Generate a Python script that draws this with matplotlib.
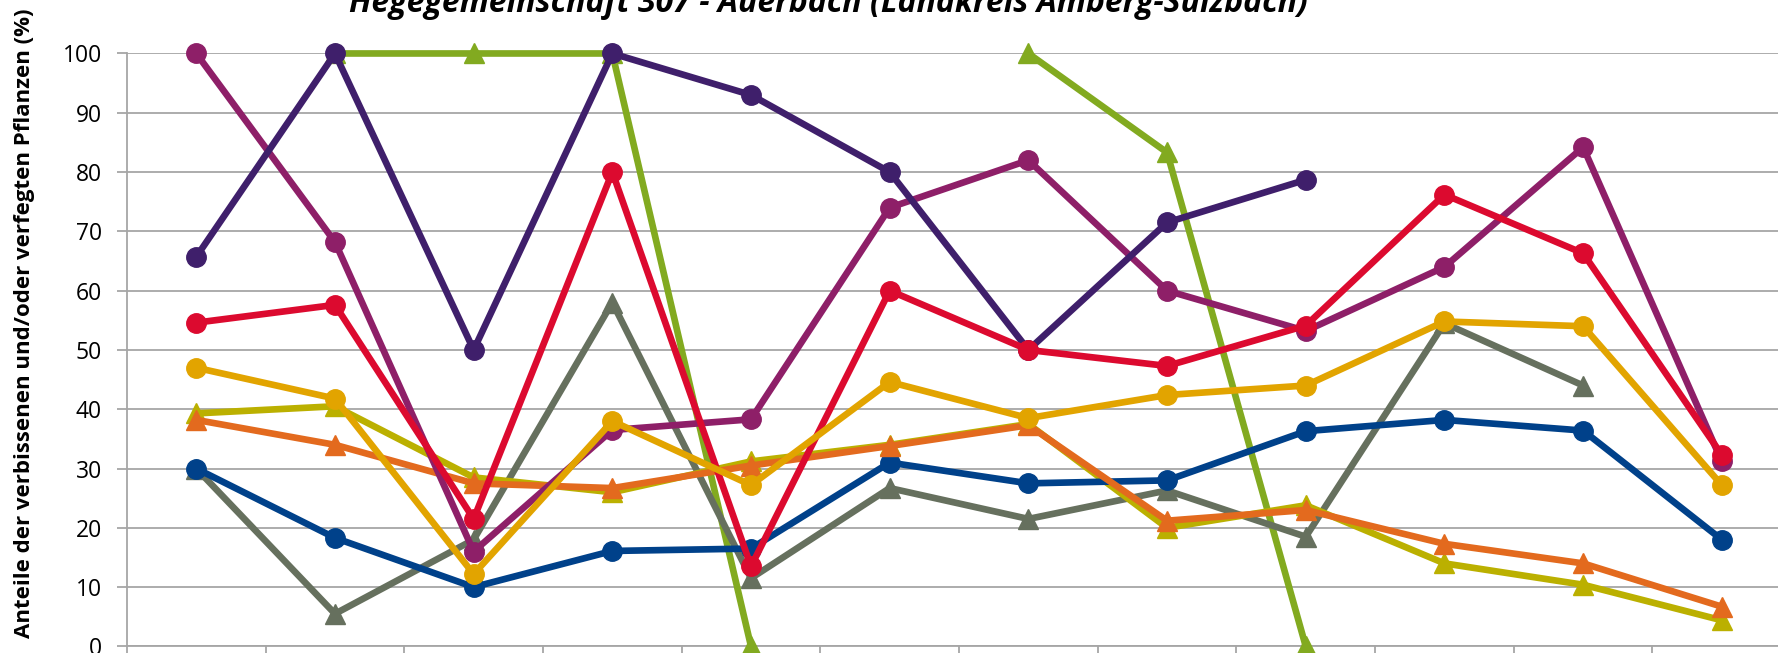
import numpy as np
import matplotlib
matplotlib.use("Agg")
from matplotlib import pyplot as plt

nan = np.nan
x_values = list(range(12))

# values (percent), nan = no value
gruen = [nan, 100, 100, 100, 0, nan, 100, 83.3, 0, nan, nan, nan]
grau = [30, 5.5, 18, 58, 11.5, 26.7, 21.5, 26.3, 18.5, 54.5, 44, nan]
oliv = [39.3, 40.5, 28.5, 26, 31.2, 34, 37.5, 20, 23.8, 14, 10.4, 4.4]
blau = [30, 18.3, 10, 16.1, 16.5, 31, 27.5, 28, 36.3, 38.2, 36.4, 18]
orange = [38.2, 34, 27.5, 26.7, 30.5, 33.8, 37.3, 21.2, 23, 17.3, 14, 6.7]
pflaume = [100, 68.2, 16, 36.5, 38.3, 74, 82, 60, 53.2, 64, 84.2, 31.2]
lila = [65.7, 100, 50, 100, 93, 80, 50, 71.5, 78.7, nan, nan, nan]
rot = [54.6, 57.6, 21.5, 80, 13.5, 60, 50, 47.3, 54.1, 76.2, 66.3, 32.3]
gold = [47, 41.8, 12.2, 38, 27.2, 44.6, 38.5, 42.4, 44, 54.8, 54, 27.2]

titel = "Hegegemeinschaft 307 - Auerbach (Landkreis Amberg-Sulzbach)"
ylabel = "Anteile der verbissenen und/oder verfegten Pflanzen (%)"

plt.rcParams['font.family'] = ['Open Sans', 'DejaVu Sans']

fig = plt.figure(figsize=(17.78, 6.53), dpi=100)
ax = fig.add_axes([0.0714, 0.0101, 0.936, 0.908])

# series: (values, colour, marker)
reihen = [
    (gruen, '#82AA20', '^'),
    (grau, '#66705E', '^'),
    (oliv, '#BBB000', '^'),
    (blau, '#00418A', 'o'),
    (orange, '#E36A1E', '^'),
    (pflaume, '#8E1F68', 'o'),
    (lila, '#3F1F6B', 'o'),
    (rot, '#DC0A2F', 'o'),
    (gold, '#E2A400', 'o'),
]
for i, (werte, farbe, marker) in enumerate(reihen):
    ax.plot(x_values, werte, color=farbe, lw=4.8, marker=marker,
            ms=14 if marker == 'o' else 15, clip_on=False, zorder=3 + i)

ax.set_xlim(-0.5, 11.5)
ax.set_ylim(0, 100)
ax.set_yticks(range(0, 101, 10))
ax.set_xticks(np.arange(-0.5, 12, 1))
ax.set_xticklabels([])
ax.grid(axis='y', color='#A6A6A6', lw=1.3)
ax.set_axisbelow(True)
for s in ['top', 'right']:
    ax.spines[s].set_visible(False)
for s in ['left', 'bottom']:
    ax.spines[s].set_color('#A6A6A6')
    ax.spines[s].set_linewidth(1.3)
ax.tick_params(axis='x', length=8, color='#A6A6A6', width=1.3)
ax.tick_params(axis='y', length=7, color='#A6A6A6', width=1.3,
               labelsize=16.5, pad=11)

ax.set_ylabel(ylabel, fontsize=16, fontweight='bold')
ax.yaxis.set_label_coords(-0.055, 0.545)

fig.text(0.466, 0.981, titel, fontsize=23, fontweight='bold', style='italic',
         ha='center', va='baseline')

fig.savefig("out.png", dpi=100)
